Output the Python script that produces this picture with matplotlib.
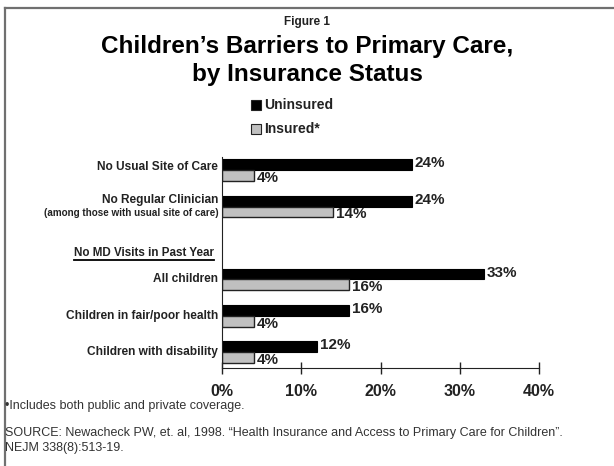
import matplotlib.pyplot as plt
from matplotlib.lines import Line2D
from matplotlib.patches import Rectangle

BOLD = ['Liberation Sans', 'DejaVu Sans']

# data
categories = ['No Usual Site of Care', 'No Regular Clinician', '',
              'All children', 'Children in fair/poor health',
              'Children with disability']
uninsured = [24, 24, None, 33, 16, 12]
insured = [4, 14, None, 16, 4, 4]
ticks = [0, 10, 20, 30, 40]

fig = plt.figure(figsize=(6.14, 4.66), dpi=100)
ax = fig.add_axes([222 / 614, 98 / 466, 317 / 614, 211 / 466])

h = 0.30
for i, (u, s) in enumerate(zip(uninsured, insured)):
    if u is None:
        continue
    ax.barh(i - h / 2, u, height=h, color='black', edgecolor='black', linewidth=0.8)
    ax.barh(i + h / 2, s, height=h, color='#c0c0c0', edgecolor='#222222', linewidth=1.0)
    ax.text(u + 0.35, i - h / 2 - 0.04, f'{u}%', ha='left', va='center',
            fontsize=11, fontweight='bold', family=BOLD, color='#222222')
    ax.text(s + 0.35, i + h / 2 + 0.06, f'{s}%', ha='left', va='center',
            fontsize=11, fontweight='bold', family=BOLD, color='#222222')

ax.set_xlim(0, 40)
ax.set_ylim(5.43, -0.36)
ax.set_xticks(ticks)
ax.set_xticklabels([f'{t}%' for t in ticks], fontsize=11.5, fontweight='bold',
                   family=BOLD, color='#222222')
ax.tick_params(axis='x', direction='inout', length=9, width=1, pad=7, color='#222222')
ax.set_yticks([])
for side in ['top', 'right']:
    ax.spines[side].set_visible(False)
ax.spines['left'].set_color('#222222')
ax.spines['bottom'].set_color('#222222')

# category labels on the left
tf = ax.get_yaxis_transform()
lab = dict(ha='right', va='center', fontsize=8.6, fontweight='bold',
           family=BOLD, color='#222222', transform=tf)
ax.text(-0.012, 0 - 0.08, categories[0], **lab)
ax.text(-0.012, 1 - 0.18, categories[1], **lab)
ax.text(-0.012, 1 + 0.18, '(among those with usual site of care)',
        **{**lab, 'fontsize': 7.1})
for i in [3, 4, 5]:
    ax.text(-0.012, i, categories[i], **lab)
hdr = ax.text(-0.025, 2.27, 'No MD Visits in Past Year', **{**lab, 'fontsize': 8.4})

fig.canvas.draw()
bb = hdr.get_window_extent().transformed(fig.transFigure.inverted())
fig.add_artist(Line2D([bb.x0, bb.x1], [1 - 260 / 466] * 2, color='black', lw=1.3))

# titles
fig.text(0.5, 1 - 22 / 466, 'Figure 1', ha='center', va='center',
         fontsize=8.5, fontweight='bold', family=BOLD, color='#222222')
fig.text(0.5, 1 - 46 / 466, 'Children\u2019s Barriers to Primary Care,',
         ha='center', va='center', fontsize=17.5, fontweight='bold',
         family=BOLD, color='black')
fig.text(0.5, 1 - 74 / 466, 'by Insurance Status', ha='center', va='center',
         fontsize=17.5, fontweight='bold', family=BOLD, color='black')

# legend
for y, col, name in [(105, 'black', 'Uninsured'), (129, '#c0c0c0', 'Insured*')]:
    fig.add_artist(Rectangle((251 / 614, 1 - (y + 5) / 466), 9.5 / 614, 9.5 / 466,
                             facecolor=col, edgecolor='#222222', lw=0.8))
    fig.text(264 / 614, 1 - y / 466, name, ha='left', va='center',
             fontsize=10, fontweight='bold', family=BOLD, color='#222222')

# notes
note = dict(ha='left', va='center', fontsize=9, family=BOLD, color='#333333')
fig.text(5 / 614, 1 - 406 / 466, '\u2022Includes both public and private coverage.', **note)
fig.text(5 / 614, 1 - 433 / 466,
         'SOURCE: Newacheck PW, et. al, 1998. \u201cHealth Insurance and Access to '
         'Primary Care for Children\u201d.', **note)
fig.text(5 / 614, 1 - 448 / 466, 'NEJM 338(8):513-19.', **note)

# frame lines at left and top
fig.add_artist(Line2D([5 / 614, 5 / 614], [0, 1 - 7.5 / 466], color='#707070', lw=1.6))
fig.add_artist(Line2D([5 / 614, 1], [1 - 7.5 / 466] * 2, color='#707070', lw=1.6))

fig.savefig('out.png', dpi=100)
